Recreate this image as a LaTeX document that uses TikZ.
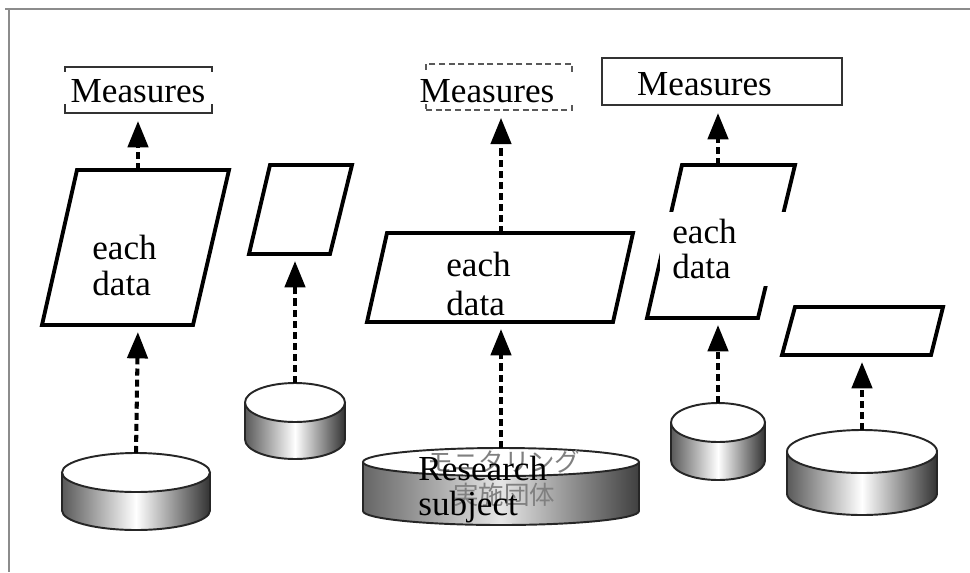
\documentclass[tikz,border=0pt]{standalone}
\usepackage{fontspec}
\setmainfont{Liberation Serif}
\newfontfamily\jpfont{Noto Sans CJK JP}
\usetikzlibrary{arrows.meta}

\tikzset{
  para/.style={line width=2.2pt, fill=white},
  mbox/.style={draw=black!80, line width=1.1pt, inner sep=0pt},
  link/.style={line width=2.3pt, dash pattern=on 4pt off 2.3pt,
    -{Triangle[length=15pt,width=11.5pt]}, shorten >=4pt},
  lbl/.style={font=\fontsize{20}{20}\selectfont, align=left, inner sep=0pt},
  mlbl/.style={font=\fontsize{20}{20}\selectfont, text height=16pt, text depth=0pt,
    inner ysep=1pt, inner xsep=6pt, anchor=base},
  drum/.style={draw=black!85, line width=1.1pt},
}

\begin{document}
\begin{tikzpicture}[x=0.02cm, y=-0.02cm]
\useasboundingbox (0,0) rectangle (970,572);
% frame
\draw[black!45, line width=1.2pt] (5,9) -- (970,9);
\draw[black!45, line width=1.2pt] (9,9) -- (9,572);

% drums
\foreach \cx/\ty/\rx/\ry/\h/\lc/\mc/\rc/\nm in {
    136/472.5/74/19.5/38/black!65/white/black!80/c1,
    295/402.5/50/19.5/37/black!65/white/black!80/c2,
    501/462/138/14/49/black!60/black!10/black!75/c3,
    718/422.5/47/19.5/38/black!65/white/black!80/c4,
    862/451.5/75/21.5/42/black!65/white/black!80/c5}
{
  \fill[left color=\lc, right color=\rc, middle color=\mc]
    (\cx-\rx,\ty) -- (\cx-\rx,\ty+\h)
    arc[start angle=180, end angle=0, x radius=\rx, y radius=\ry]
    -- (\cx+\rx,\ty) -- cycle;
  \draw[drum] (\cx-\rx,\ty) -- (\cx-\rx,\ty+\h)
    arc[start angle=180, end angle=0, x radius=\rx, y radius=\ry]
    -- (\cx+\rx,\ty);
  \draw[drum, fill=white] (\cx,\ty) ellipse[x radius=\rx, y radius=\ry];
  \coordinate (\nm) at (\cx,\ty-\ry);
}

% data sheets
\draw[para] (77,170) -- (229,170) -- (193,325) -- (42,325) -- cycle;
\draw[para] (270,165) -- (352,165) -- (330,254) -- (249,254) -- cycle;
\draw[para] (387,233) -- (633,233) -- (613,322) -- (367,322) -- cycle;
\draw[para] (682,165) -- (795,165) -- (758,318) -- (647,318) -- cycle;
\draw[para] (795,307) -- (943,307) -- (931,355) -- (782,355) -- cycle;
\coordinate (p1t) at (138,170);
\coordinate (p1b) at (138,325);
\coordinate (p2b) at (295,254);
\coordinate (p3t) at (501,233);
\coordinate (p3b) at (501,322);
\coordinate (p4t) at (718,165);
\coordinate (p4b) at (718,318);
\coordinate (p5b) at (862,355);

% measures
\node[mbox, minimum width=2.94cm, minimum height=0.92cm] (m1) at (138.5,90) {};
\node[mbox, draw=black!65, line width=0.9pt, dash pattern=on 3.5pt off 2pt,
  minimum width=2.92cm, minimum height=0.92cm] (m2) at (499,87) {};
\node[mbox, minimum width=4.8cm, minimum height=0.94cm] (m3) at (722,81.5) {};
\node[mlbl, fill=white] (m1t) at (138,102) {Measures};
\node[mlbl, fill=white, inner xsep=11pt] (m2t) at (487,102) {Measures};
\node[mlbl] (m3t) at (704.5,95) {Measures};

% links
\draw[link] (c1) -- (p1b);
\draw[link] (p1t) -- (p1t |- m1.south);
\draw[link] (c2) -- (p2b);
\draw[link] (c3) -- (p3b);
\draw[link] (p3t) -- (p3t |- m2.south);
\draw[link] (c4) -- (p4b);
\draw[link] (p4t) -- (p4t |- m3.south);
\draw[link] (c5) -- (p5b);

% labels
\node[lbl, anchor=west] (d1) at (92,265.5) {each\\data};
\node[lbl, anchor=west] (d3) at (446,284) {each\\[2pt]data};
\node[lbl, anchor=west, fill=white, inner xsep=6.8pt, text width=2.12cm,
  minimum height=1.48cm] (d4) at (660,249) {each\\data};
\node[text=black!50, font=\jpfont\fontsize{14.5}{18.8}\selectfont, align=center,
  inner sep=0pt] (jp) at (504,478.5) {モニタリング\\実施団体};
\node[lbl, anchor=west] (rs) at (418,489.3) {Research\\subject};
\end{tikzpicture}
\end{document}
